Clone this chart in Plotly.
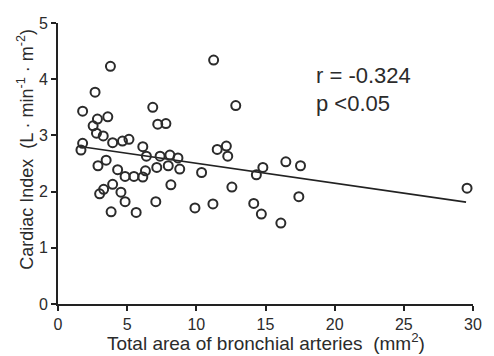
import plotly.graph_objects as go

# Data: total area of bronchial arteries (mm^2) vs cardiac index
area = [3.79, 11.25, 12.85, 2.68, 1.78, 6.85, 7.21, 7.80, 2.85, 3.60,
        2.54, 2.78, 3.27, 3.95, 4.66, 5.13, 1.78, 1.66, 6.13, 6.39,
        7.38, 8.09, 2.89, 3.48, 4.31, 4.85, 5.49, 6.13, 6.32, 7.14,
        7.97, 8.16, 3.01, 3.30, 3.95, 4.55, 4.85, 3.84, 5.65, 7.07,
        8.67, 8.80, 11.51, 12.17, 12.27, 10.38, 12.57, 9.90, 11.20, 14.34,
        14.81, 14.15, 14.70, 16.11, 16.47, 17.53, 17.41, 29.57]
cardiac_index = [4.23, 4.34, 3.53, 3.77, 3.43, 3.50, 3.20, 3.21, 3.29, 3.33,
                 3.17, 3.04, 2.99, 2.87, 2.90, 2.93, 2.86, 2.74, 2.80, 2.63,
                 2.63, 2.65, 2.46, 2.56, 2.39, 2.27, 2.27, 2.26, 2.37, 2.43,
                 2.46, 2.12, 1.96, 2.04, 2.13, 1.99, 1.82, 1.64, 1.63, 1.82,
                 2.60, 2.40, 2.75, 2.81, 2.63, 2.34, 2.08, 1.71, 1.78, 2.30,
                 2.43, 1.79, 1.60, 1.44, 2.53, 2.46, 1.91, 2.06]

# Regression line (as drawn in the figure)
fit_x = [1.59, 29.5]
fit_intercept = 2.86
fit_slope = -0.0355
fit_y = [fit_intercept + fit_slope * v for v in fit_x]

x_ticks = [0, 5, 10, 15, 20, 25, 30]
y_ticks = [0, 1, 2, 3, 4, 5]
stats_text = ["r = -0.324", "p <0.05"]

FONT = "Liberation Sans, Arial, sans-serif"
INK = "#2b2b2b"

fig = go.Figure()
fig.add_trace(go.Scatter(
    x=fit_x, y=fit_y, mode="lines",
    line=dict(color="#222222", width=1.6),
    hoverinfo="skip", showlegend=False, cliponaxis=False))
fig.add_trace(go.Scatter(
    x=area, y=cardiac_index, mode="markers",
    marker=dict(symbol="circle-open", size=9, color="#2b2b2b",
                line=dict(width=2, color="#2b2b2b")),
    showlegend=False, cliponaxis=False))

fig.update_layout(
    width=494, height=356,
    margin=dict(l=57.5, r=13, t=22.7, b=51.7),
    paper_bgcolor="white", plot_bgcolor="white",
    font=dict(family=FONT, color=INK, size=16),
    xaxis=dict(range=[0, 30], tickvals=x_ticks, ticks="outside", ticklen=5,
               tickwidth=1.5, tickcolor="#222", showline=True, linecolor="#222",
               linewidth=1.6, showgrid=False, zeroline=False,
               tickfont=dict(size=16, color=INK, family=FONT)),
    yaxis=dict(range=[0, 5], tickvals=y_ticks, ticks="outside", ticklen=5,
               tickwidth=1.5, tickcolor="#222", showline=True, linecolor="#222",
               linewidth=1.6, showgrid=False, zeroline=False,
               tickfont=dict(size=16, color=INK, family=FONT)),
    annotations=[
        dict(text="Total area of bronchial arteries  (mm<sup>2</sup>)",
             xref="paper", yref="paper", x=0.5, y=-0.1836, yanchor="bottom",
             xanchor="center", showarrow=False,
             font=dict(size=19, color=INK, family=FONT)),
        dict(text="Cardiac Index  (L · min<sup>-1</sup> · m<sup>-2</sup>)",
             xref="paper", yref="paper", x=-0.046, y=0.55, xanchor="right",
             yanchor="middle", textangle=-90, showarrow=False,
             font=dict(size=18, color=INK, family=FONT)),
        dict(text=stats_text[0], xref="x", yref="y", x=18.5, y=4.06,
             xanchor="left", yanchor="middle", showarrow=False,
             font=dict(size=22, color=INK, family=FONT)),
        dict(text=stats_text[1], xref="x", yref="y", x=18.5, y=3.56,
             xanchor="left", yanchor="middle", showarrow=False,
             font=dict(size=22, color=INK, family=FONT)),
    ],
)

fig.write_html("out.html")
